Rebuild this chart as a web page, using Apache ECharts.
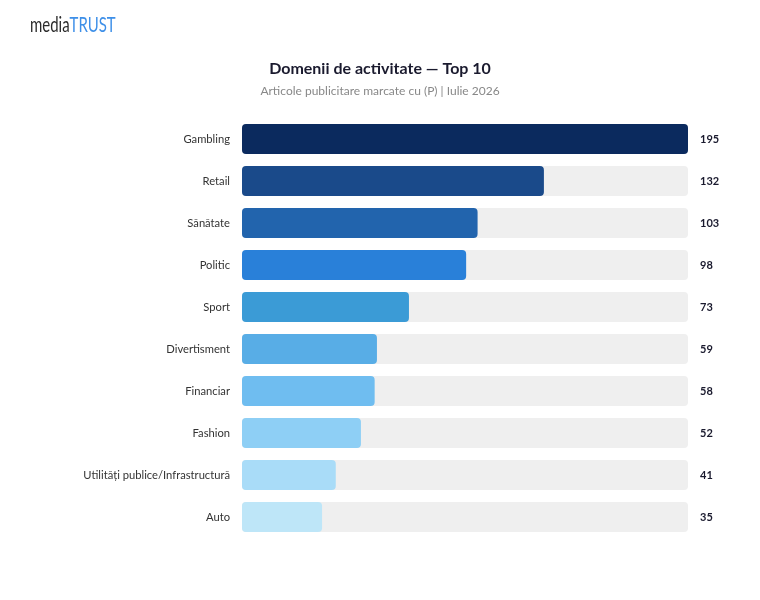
<!DOCTYPE html>
<html><head><meta charset="utf-8">
<script src="https://cdn.jsdelivr.net/npm/echarts@6/dist/echarts.min.js"></script>
<style>html,body{margin:0;padding:0;background:#fff}#c{width:760px;height:600px}</style>
</head><body><div id="c"></div>
<script>
const categories = ["Gambling","Retail","Sănătate","Politic","Sport","Divertisment","Financiar","Fashion","Utilități publice/Infrastructură","Auto"];
const values = [195,132,103,98,73,59,58,52,41,35];
const colors = ["#0b2a5e","#1a4a8a","#2264ad","#2980d9","#3b9bd6","#58ade6","#6fbdf0","#8ecff5","#a9dcf8","#bee6f8"];

const chart = echarts.init(document.getElementById('c'));
chart.setOption({
  animation:false,
  textStyle:{fontFamily:'Lato'},
  title:{
    text:'Domenii de activitate — Top 10',
    subtext:'Articole publicitare marcate cu (P) | Iulie 2026',
    left:'center', top:56, itemGap:8,
    textStyle:{fontFamily:'Lato',fontSize:16,fontWeight:'bold',color:'#1a1a2e'},
    subtextStyle:{fontFamily:'Lato',fontSize:12,color:'#888'}
  },
  graphic:[{
    type:'text', left:30, top:14, scaleX:0.68, originX:0,
    style:{
      text:'{a|media}{b|TRUST}',
      fill:'#2a2a2a',
      rich:{
        a:{fontFamily:'Lato',fontSize:22,fill:'#2a2a2a'},
        b:{fontFamily:'Lato',fontSize:22,fill:'#3d8fe8'}
      }
    }
  }],
  grid:{left:242,right:72,top:118,bottom:62},
  xAxis:{type:'value',min:0,max:195,show:false},
  yAxis:[{
    type:'category',data:categories,inverse:true,
    axisLine:{show:false},axisTick:{show:false},
    axisLabel:{margin:12,fontSize:11.2,color:'#333',fontFamily:'Lato'}
  },{
    type:'category',data:values.map(String),inverse:true,position:'right',
    axisLine:{show:false},axisTick:{show:false},
    axisLabel:{margin:12,fontSize:11,fontWeight:'bold',color:'#1a1a2e',fontFamily:'Lato',align:'left'}
  }],
  series:[{
    type:'bar',barWidth:30,
    showBackground:true,
    backgroundStyle:{color:'#efefef',borderRadius:4},
    data:values.map((v,i)=>({value:v,itemStyle:{color:colors[i],borderRadius:4}}))
  }]
});
</script></body></html>
